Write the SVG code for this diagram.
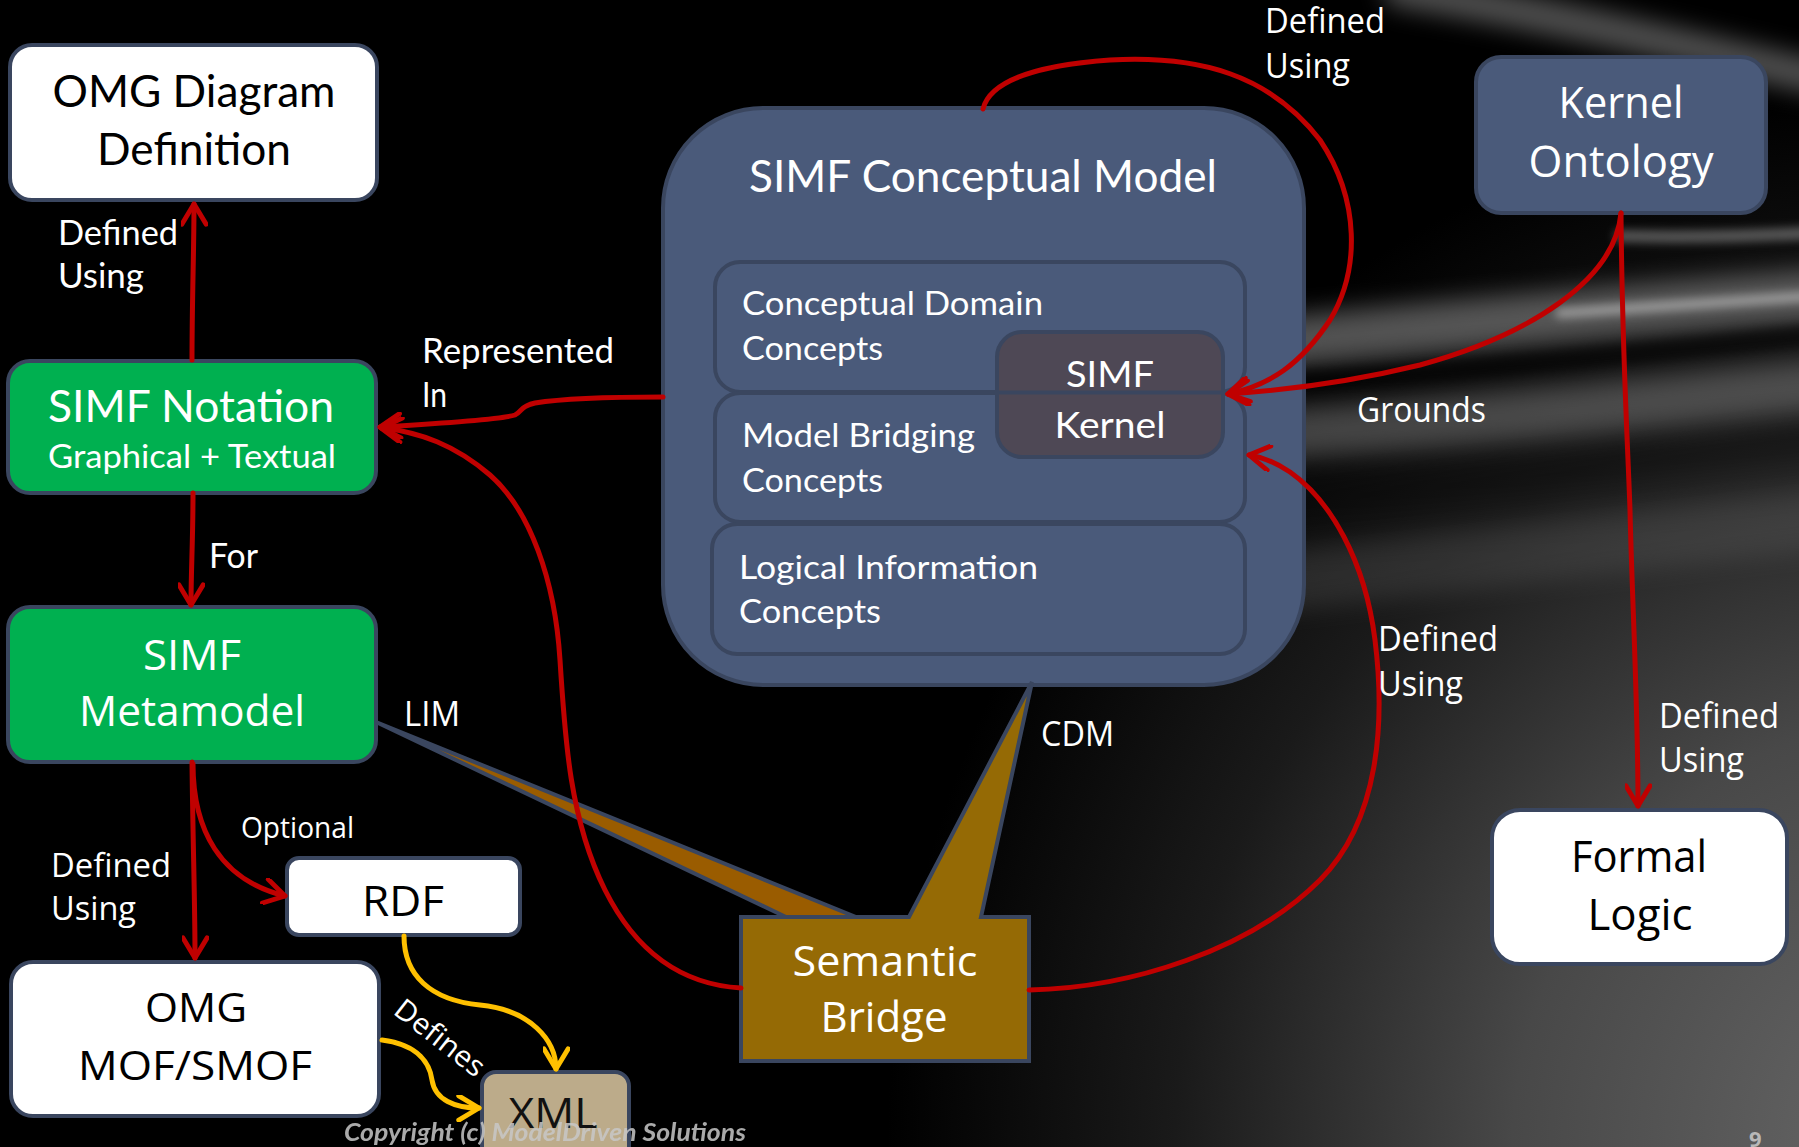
<svg xmlns="http://www.w3.org/2000/svg" width="1799" height="1147" viewBox="0 0 1799 1147">
  <style>
    .box { stroke: #3a465f; stroke-width: 4; }
    .white { fill: #ffffff; }
    .green { fill: #00b050; }
    .slate { fill: #4a5a7a; }
    .c { font-family: "Lato", "Liberation Sans", sans-serif; }
    .s { font-family: "Open Sans", "Noto Sans", "Liberation Sans", sans-serif; }
    .lbl { fill: #ffffff; }
    .dark { fill: #000000; }
    .mid { text-anchor: middle; }
    .red { fill: none; stroke: #c00000; stroke-width: 5; stroke-linecap: round; }
    .yel { fill: none; stroke: #ffc000; stroke-width: 5; stroke-linecap: round; }
  </style>
  <defs>
    <radialGradient id="bgGrad" cx="1950" cy="1150" r="1250" gradientUnits="userSpaceOnUse">
      <stop offset="0" stop-color="#6a6a6a"/>
      <stop offset="0.35" stop-color="#484848"/>
      <stop offset="0.62" stop-color="#1a1a1a"/>
      <stop offset="0.85" stop-color="#000000"/>
    </radialGradient>
    <filter id="blur" filterUnits="userSpaceOnUse" x="0" y="-100" width="1900" height="1300">
      <feGaussianBlur stdDeviation="12"/>
    </filter>
    <filter id="blur2" filterUnits="userSpaceOnUse" x="0" y="-100" width="1900" height="1300">
      <feGaussianBlur stdDeviation="5"/>
    </filter>
    <marker id="arR" viewBox="0 0 20 20" refX="17" refY="10" markerWidth="27" markerHeight="27" markerUnits="userSpaceOnUse" orient="auto">
      <path d="M2,1 L17,10 L2,19" fill="none" stroke="#c00000" stroke-width="3.6" stroke-linecap="round" stroke-linejoin="round"/>
    </marker>
    <marker id="arY" viewBox="0 0 20 20" refX="17" refY="10" markerWidth="27" markerHeight="27" markerUnits="userSpaceOnUse" orient="auto">
      <path d="M2,1 L17,10 L2,19" fill="none" stroke="#ffc000" stroke-width="3.6" stroke-linecap="round" stroke-linejoin="round"/>
    </marker>
  </defs>

  <!-- background -->
  <g id="background">
    <rect x="0" y="0" width="1799" height="1147" fill="#000000"/>
    <rect x="0" y="0" width="1799" height="1147" fill="url(#bgGrad)"/>
    <path d="M1400,-10 C1550,15 1680,45 1830,80" stroke="#c8c8c8" stroke-width="34" fill="none" opacity="0.4" filter="url(#blur)" stroke-linecap="round"/>
    <path d="M1620,236 C1700,238 1760,236 1830,232" stroke="#d0d0d0" stroke-width="12" fill="none" opacity="0.4" filter="url(#blur2)" stroke-linecap="round"/>
    <path d="M1240,345 C1500,322 1650,306 1830,294" stroke="#a0a0a0" stroke-width="50" fill="none" opacity="0.5" filter="url(#blur)" stroke-linecap="round"/>
    <path d="M1560,313 C1680,305 1750,300 1830,295" stroke="#eeeeee" stroke-width="10" fill="none" opacity="0.45" filter="url(#blur2)" stroke-linecap="round"/>
    <path d="M1240,386 C1500,370 1650,352 1830,333" stroke="#000000" stroke-width="22" fill="none" opacity="0.5" filter="url(#blur2)" stroke-linecap="round"/>
    <path d="M1240,436 C1500,420 1650,402 1830,384" stroke="#9a9a9a" stroke-width="50" fill="none" opacity="0.4" filter="url(#blur)" stroke-linecap="round"/>
    <path d="M1240,508 C1500,482 1650,462 1830,440" stroke="#000000" stroke-width="30" fill="none" opacity="0.3" filter="url(#blur)" stroke-linecap="round"/>
    <path d="M1240,586 C1480,560 1650,540 1830,518" stroke="#8a8a8a" stroke-width="60" fill="none" opacity="0.2" filter="url(#blur)" stroke-linecap="round"/>
  </g>

  <!-- nodes -->
  <g id="omg-diagram-definition">
    <rect class="box white" x="10" y="45" width="367" height="155" rx="22"/>
    <text class="c dark mid" x="194" y="107" font-size="44" textLength="283" lengthAdjust="spacingAndGlyphs">OMG Diagram</text>
    <text class="c dark mid" x="194" y="165" font-size="44" textLength="194" lengthAdjust="spacingAndGlyphs">Definition</text>
  </g>

  <g id="simf-notation">
    <rect class="box green" x="8" y="361" width="368" height="132" rx="22"/>
    <text class="c lbl mid" x="191" y="422" font-size="44" textLength="286" lengthAdjust="spacingAndGlyphs">SIMF Notation</text>
    <text class="c lbl mid" x="192" y="468" font-size="32" textLength="288" lengthAdjust="spacingAndGlyphs">Graphical + Textual</text>
  </g>

  <g id="simf-metamodel">
    <rect class="box green" x="8" y="607" width="368" height="155" rx="22"/>
    <text class="s lbl mid" x="192" y="670" font-size="42" textLength="98" lengthAdjust="spacingAndGlyphs">SIMF</text>
    <text class="s lbl mid" x="192" y="726" font-size="42" textLength="226" lengthAdjust="spacingAndGlyphs">Metamodel</text>
  </g>

  <g id="rdf">
    <rect class="box white" x="287" y="858" width="233" height="77" rx="12"/>
    <text class="s dark mid" x="403" y="916" font-size="42" textLength="82" lengthAdjust="spacingAndGlyphs">RDF</text>
  </g>

  <g id="omg-mof-smof">
    <rect class="box white" x="11" y="962" width="368" height="154" rx="22"/>
    <text class="s dark mid" x="196" y="1022" font-size="41" textLength="102" lengthAdjust="spacingAndGlyphs">OMG</text>
    <text class="s dark mid" x="195" y="1080" font-size="41" textLength="234" lengthAdjust="spacingAndGlyphs">MOF/SMOF</text>
  </g>

  <g id="xml">
    <rect class="box" x="482" y="1072" width="147" height="100" rx="14" fill="#bcab8a"/>
    <text class="s mid" x="553" y="1128" font-size="42" fill="#111111" textLength="89" lengthAdjust="spacingAndGlyphs">XML</text>
  </g>

  <g id="simf-conceptual-model">
    <rect class="box slate" x="663" y="108" width="641" height="577" rx="100"/>
    <text class="c lbl mid" x="983" y="192" font-size="44" textLength="468" lengthAdjust="spacingAndGlyphs">SIMF Conceptual Model</text>
    <rect class="box slate" x="715" y="262" width="530" height="130" rx="25"/>
    <rect class="box slate" x="715" y="393" width="530" height="129" rx="25"/>
    <rect class="box slate" x="712" y="524" width="533" height="130" rx="25"/>
    <text class="c lbl" x="742" y="315" font-size="33" textLength="301" lengthAdjust="spacingAndGlyphs">Conceptual Domain</text>
    <text class="c lbl" x="742" y="360" font-size="33" textLength="141" lengthAdjust="spacingAndGlyphs">Concepts</text>
    <text class="c lbl" x="742" y="447" font-size="33" textLength="233" lengthAdjust="spacingAndGlyphs">Model Bridging</text>
    <text class="c lbl" x="742" y="492" font-size="33" textLength="141" lengthAdjust="spacingAndGlyphs">Concepts</text>
    <text class="c lbl" x="739" y="579" font-size="33" textLength="299" lengthAdjust="spacingAndGlyphs">Logical Information</text>
    <text class="c lbl" x="739" y="623" font-size="33" textLength="142" lengthAdjust="spacingAndGlyphs">Concepts</text>
  </g>

  <g id="simf-kernel">
    <rect class="box" x="997" y="332" width="226" height="125" rx="25" fill="#4e4855"/>
    <line x1="999" y1="392.5" x2="1221" y2="392.5" stroke="#3a465f" stroke-width="4"/>
    <text class="c lbl mid" x="1110" y="387" font-size="37" textLength="88" lengthAdjust="spacingAndGlyphs">SIMF</text>
    <text class="c lbl mid" x="1110" y="438" font-size="37" textLength="111" lengthAdjust="spacingAndGlyphs">Kernel</text>
  </g>

  <g id="semantic-bridge">
    <path class="box" d="M376,722 L786,917 L856,917 Z" fill="#9a5c00" stroke-linejoin="round"/>
    <path class="box" d="M741,917 L909,917 L1032,682 L981,917 L1029,917 L1029,1061 L741,1061 Z" fill="#956a05" stroke-linejoin="miter"/>
    <text class="s lbl mid" x="885" y="976" font-size="42" textLength="185" lengthAdjust="spacingAndGlyphs">Semantic</text>
    <text class="s lbl mid" x="884" y="1032" font-size="42" textLength="127" lengthAdjust="spacingAndGlyphs">Bridge</text>
  </g>

  <g id="kernel-ontology">
    <rect class="box slate" x="1476" y="57" width="290" height="156" rx="25"/>
    <text class="s lbl mid" x="1621" y="118" font-size="44" textLength="125" lengthAdjust="spacingAndGlyphs">Kernel</text>
    <text class="s lbl mid" x="1621" y="177" font-size="44" textLength="185" lengthAdjust="spacingAndGlyphs">Ontology</text>
  </g>

  <g id="formal-logic">
    <rect class="box white" x="1492" y="810" width="295" height="154" rx="28"/>
    <text class="s dark mid" x="1639" y="872" font-size="44" textLength="136" lengthAdjust="spacingAndGlyphs">Formal</text>
    <text class="s dark mid" x="1640" y="930" font-size="44" textLength="105" lengthAdjust="spacingAndGlyphs">Logic</text>
  </g>

  <!-- connectors -->
  <g id="connectors">
    <path class="red" d="M192,360 C192,300 194,250 194,204" marker-end="url(#arR)"/>
    <path class="red" d="M193,493 C193,540 191,570 191,605" marker-end="url(#arR)"/>
    <path class="red" d="M192,762 C193,850 195,900 195,958" marker-end="url(#arR)"/>
    <path class="red" d="M193,764 C193,830 220,880 285,896" marker-end="url(#arR)"/>
    <path class="red" d="M663,397 C610,397 560,399 535,403 C520,406 522,412 515,415 C500,420 430,424 380,427" marker-end="url(#arR)"/>
    <path class="red" d="M741,988 C690,985 640,960 605,890 C570,820 565,740 560,660 C555,580 530,510 490,475 C455,445 420,432 381,428" marker-end="url(#arR)"/>
    <path class="red" d="M1029,990 C1130,988 1250,950 1320,880 C1380,820 1385,720 1375,640 C1365,560 1330,500 1290,472 C1275,462 1262,457 1249,455" marker-end="url(#arR)"/>
    <path class="red" d="M983,109 C990,80 1040,65 1110,60 C1200,55 1270,75 1320,140 C1360,200 1360,270 1330,320 C1300,365 1270,385 1228,394" marker-end="url(#arR)"/>
    <path class="red" d="M1621,213 C1615,280 1530,335 1420,365 C1350,382 1290,390 1228,394" marker-end="url(#arR)"/>
    <path class="red" d="M1621,213 C1622,350 1628,450 1630,510 C1632,600 1638,700 1638,806" marker-end="url(#arR)"/>
    <path class="yel" d="M404,936 C404,975 430,1000 480,1005 C530,1010 556,1040 556,1069" marker-end="url(#arY)"/>
    <path class="yel" d="M382,1040 C420,1045 430,1065 432,1080 C435,1100 455,1108 479,1108" marker-end="url(#arY)"/>
  </g>

  <!-- connector labels -->
  <g id="labels">
    <text class="c lbl" x="58" y="245" font-size="34" textLength="120" lengthAdjust="spacingAndGlyphs">Defined</text>
    <text class="c lbl" x="58" y="288" font-size="34" textLength="86" lengthAdjust="spacingAndGlyphs">Using</text>
    <text class="c lbl" x="422" y="363" font-size="34" textLength="192" lengthAdjust="spacingAndGlyphs">Represented</text>
    <text class="c lbl" x="422" y="407" font-size="34" textLength="25" lengthAdjust="spacingAndGlyphs">In</text>
    <text class="c lbl" x="209" y="568" font-size="34" textLength="49" lengthAdjust="spacingAndGlyphs">For</text>
    <text class="s lbl" x="404" y="726" font-size="34" textLength="56" lengthAdjust="spacingAndGlyphs">LIM</text>
    <text class="s lbl" x="241" y="838" font-size="29" textLength="113" lengthAdjust="spacingAndGlyphs">Optional</text>
    <text class="s lbl" x="51" y="877" font-size="33" textLength="120" lengthAdjust="spacingAndGlyphs">Defined</text>
    <text class="s lbl" x="51" y="920" font-size="33" textLength="85" lengthAdjust="spacingAndGlyphs">Using</text>
    <text class="s lbl" x="0" y="0" font-size="29" textLength="106" lengthAdjust="spacingAndGlyphs" transform="translate(392,1013) rotate(38)">Defines</text>
    <text class="s lbl" x="1041" y="746" font-size="34" textLength="73" lengthAdjust="spacingAndGlyphs">CDM</text>
    <text class="s lbl" x="1265" y="33" font-size="34" textLength="120" lengthAdjust="spacingAndGlyphs">Defined</text>
    <text class="s lbl" x="1265" y="78" font-size="34" textLength="85" lengthAdjust="spacingAndGlyphs">Using</text>
    <text class="s lbl" x="1357" y="422" font-size="34" textLength="129" lengthAdjust="spacingAndGlyphs">Grounds</text>
    <text class="s lbl" x="1378" y="651" font-size="34" textLength="120" lengthAdjust="spacingAndGlyphs">Defined</text>
    <text class="s lbl" x="1378" y="696" font-size="34" textLength="85" lengthAdjust="spacingAndGlyphs">Using</text>
    <text class="s lbl" x="1659" y="728" font-size="34" textLength="120" lengthAdjust="spacingAndGlyphs">Defined</text>
    <text class="s lbl" x="1659" y="772" font-size="34" textLength="85" lengthAdjust="spacingAndGlyphs">Using</text>
  </g>

  <g id="footer">
    <text class="c" x="344" y="1141" font-size="24" font-style="italic" font-weight="bold" fill="#c8c8c8" opacity="0.85" textLength="402" lengthAdjust="spacingAndGlyphs">Copyright (c) ModelDriven Solutions</text>
    <text class="s" x="1749" y="1147" font-size="22" font-weight="bold" fill="#b8b8b8">9</text>
  </g>
</svg>
